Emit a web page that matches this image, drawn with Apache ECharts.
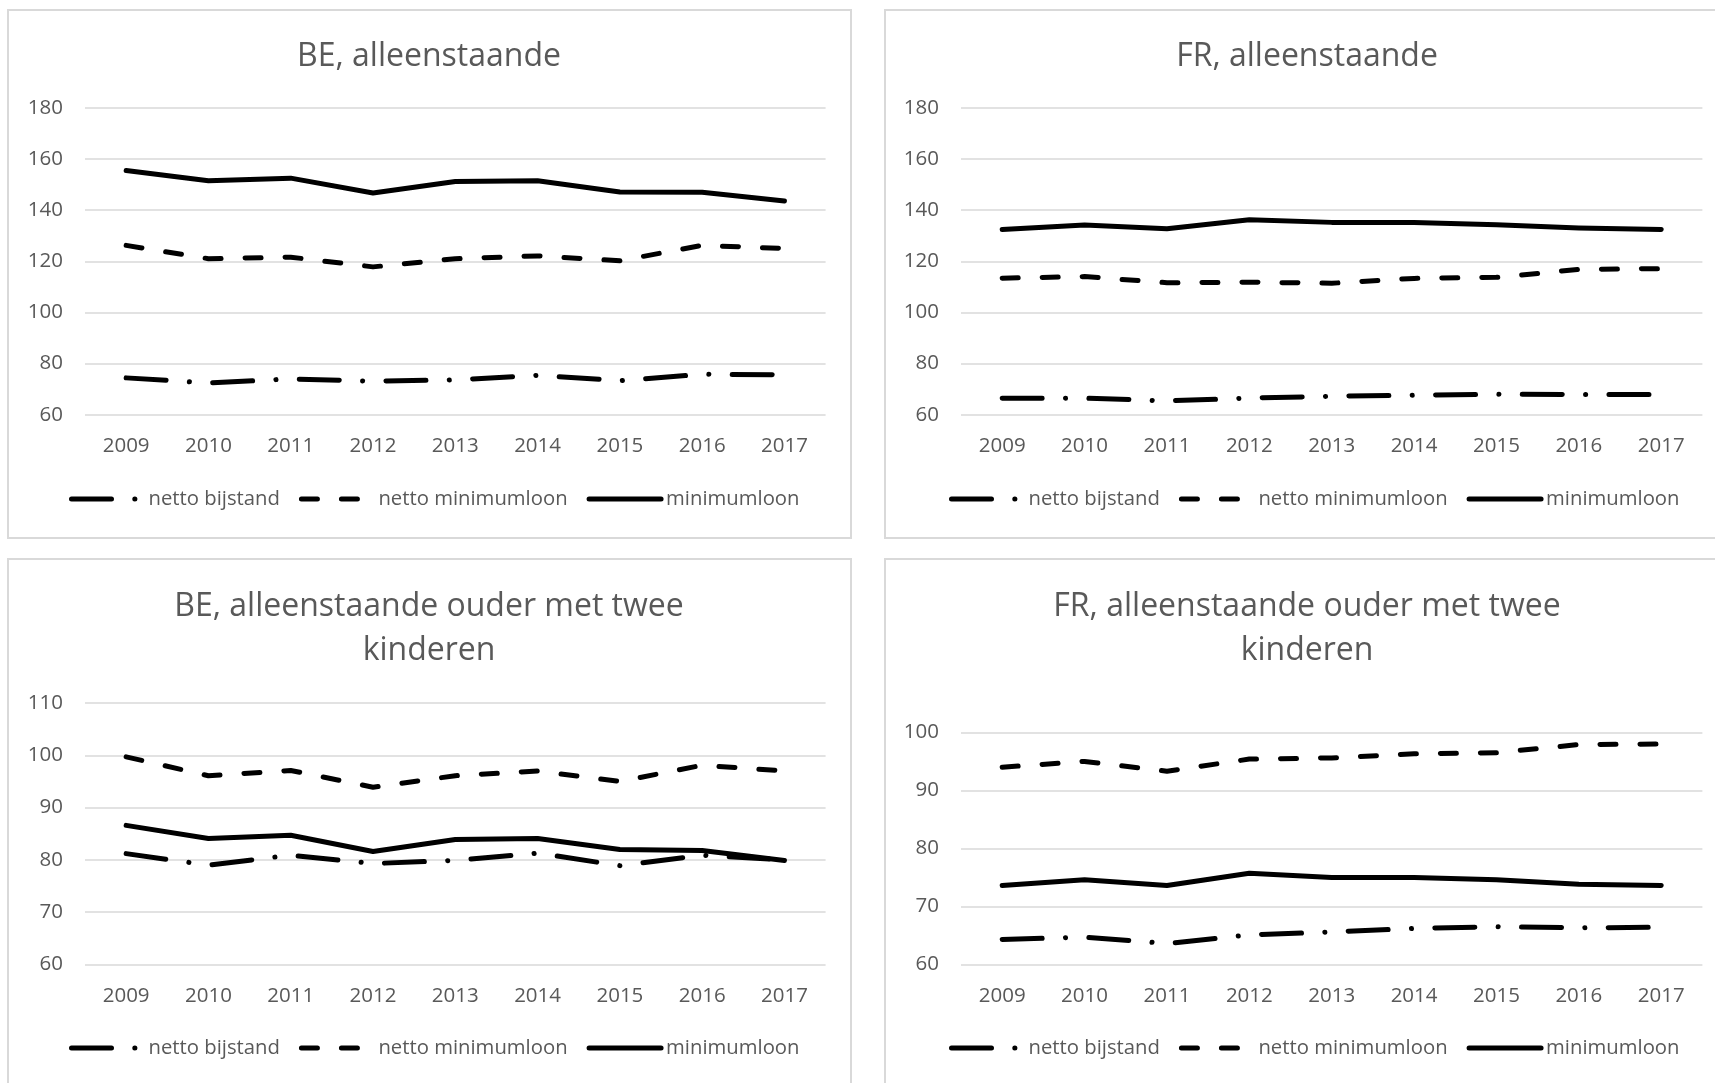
<!DOCTYPE html>
<html>
<head>
<meta charset="utf-8">
<script src="https://cdn.jsdelivr.net/npm/echarts@6/dist/echarts.min.js"></script>
<style>
html,body{margin:0;padding:0;background:#fff;}
#c{width:1715px;height:1083px;}
</style>
</head>
<body>
<div id="c"></div>
<script>
// ---------- data ----------
const years = ['2009','2010','2011','2012','2013','2014','2015','2016','2017'];
const seriesNames = ['netto bijstand','netto minimumloon','minimumloon'];

const titles = ['BE, alleenstaande','FR, alleenstaande','BE, alleenstaande ouder met twee\nkinderen','FR, alleenstaande ouder met twee\nkinderen'];

const beSingleBijstand  = [74.4, 72.4, 74.0, 73.1, 73.6, 75.4, 73.3, 75.8, 75.6];
const beSingleNettoMin  = [126.2, 121.0, 121.6, 117.8, 121.0, 122.1, 120.2, 126.2, 125.0];
const beSingleMin       = [155.5, 151.5, 152.5, 146.7, 151.2, 151.5, 147.1, 147.0, 143.6];

const frSingleBijstand  = [66.4, 66.5, 65.4, 66.5, 67.2, 67.6, 68.0, 67.9, 67.9];
const frSingleNettoMin  = [113.4, 114.0, 111.6, 111.8, 111.4, 113.3, 113.7, 116.8, 117.1];
const frSingleMin       = [132.4, 134.2, 132.7, 136.2, 135.2, 135.2, 134.3, 133.0, 132.4];

const beParentBijstand  = [81.2, 79.0, 80.9, 79.3, 79.9, 81.3, 78.9, 80.9, 80.0];
const beParentNettoMin  = [99.7, 96.1, 97.1, 93.9, 96.1, 97.0, 95.0, 98.1, 97.0];
const beParentMin       = [86.6, 84.1, 84.7, 81.6, 83.9, 84.1, 82.0, 81.8, 79.9];

const frParentBijstand  = [64.3, 64.7, 63.6, 65.1, 65.6, 66.2, 66.5, 66.3, 66.4];
const frParentNettoMin  = [94.0, 95.0, 93.3, 95.4, 95.6, 96.3, 96.5, 97.9, 98.0];
const frParentMin       = [73.6, 74.6, 73.6, 75.7, 75.0, 75.0, 74.6, 73.8, 73.6];

// y-axis ranges [min, max, interval]
const axisBeSingle = [60, 180, 20];
const axisFrSingle = [60, 180, 20];
const axisBeParent = [60, 110, 10];
const axisFrParent = [60, 100, 10];

// ---------- layout / style ----------
const FONT = '"Open Sans", "Noto Sans", sans-serif';
const TXT = '#595959';
const GRIDC = '#d9d9d9';
const LW = 5;
const dashStyles = [[40, 23.3, 0.1, 23.3], [16, 24], 'solid'];

const panels = [
  {data:[beSingleBijstand, beSingleNettoMin, beSingleMin], axis:axisBeSingle,
   grid:{left:85, top:107.8, width:740.6, height:306.9}, titleX:429, titleTop:34.5, legendX:69, legendTop:489},
  {data:[frSingleBijstand, frSingleNettoMin, frSingleMin], axis:axisFrSingle,
   grid:{left:961, top:107.8, width:741.4, height:306.9}, titleX:1307, titleTop:34.5, legendX:949, legendTop:489},
  {data:[beParentBijstand, beParentNettoMin, beParentMin], axis:axisBeParent,
   grid:{left:85, top:703, width:740.6, height:261.5}, titleX:429, titleTop:584.5, legendX:69, legendTop:1038},
  {data:[frParentBijstand, frParentNettoMin, frParentMin], axis:axisFrParent,
   grid:{left:961, top:732.4, width:741.4, height:232}, titleX:1307, titleTop:584.5, legendX:949, legendTop:1038}
];

const option = {
  backgroundColor: '#fff',
  animation: false,
  title: [], grid: [], xAxis: [], yAxis: [], series: [], legend: [],
  graphic: [
    {type:'rect', shape:{x:8, y:10, width:843, height:528}, style:{fill:'none', stroke:GRIDC, lineWidth:2}, silent:true},
    {type:'rect', shape:{x:885, y:10, width:843, height:528}, style:{fill:'none', stroke:GRIDC, lineWidth:2}, silent:true},
    {type:'rect', shape:{x:8, y:559, width:843, height:600}, style:{fill:'none', stroke:GRIDC, lineWidth:2}, silent:true},
    {type:'rect', shape:{x:885, y:559, width:843, height:600}, style:{fill:'none', stroke:GRIDC, lineWidth:2}, silent:true}
  ]
};

panels.forEach((p, i) => {
  option.title.push({
    text: titles[i], left: p.titleX, top: p.titleTop, padding: 0,
    textAlign: 'center', textVerticalAlign: 'top',
    textStyle: {fontFamily: FONT, fontSize: 32, fontWeight: 'normal', color: TXT, lineHeight: 44}
  });
  option.grid.push(Object.assign({containLabel:false}, p.grid));
  option.xAxis.push({
    type: 'category', gridIndex: i, data: years, boundaryGap: true,
    axisLine: {show: false}, axisTick: {show: false},
    axisLabel: {fontFamily: FONT, fontSize: 20.5, color: TXT, margin: 21}
  });
  option.yAxis.push({
    type: 'value', gridIndex: i, min: p.axis[0], max: p.axis[1], interval: p.axis[2],
    axisLine: {show: false}, axisTick: {show: false},
    axisLabel: {fontFamily: FONT, fontSize: 20.5, color: TXT, margin: 22},
    splitLine: {lineStyle: {color: GRIDC, width: 1.5}}
  });
  seriesNames.forEach((name, k) => {
    option.series.push({
      type: 'line', name: name, xAxisIndex: i, yAxisIndex: i,
      data: p.data[k], symbol: 'none', smooth: false,
      color: '#000',
      lineStyle: {color: '#000', width: LW, type: dashStyles[k], cap: 'round', join: 'round'},
      emphasis: {disabled: true}
    });
  });
  option.legend.push({
    data: seriesNames, left: p.legendX, top: p.legendTop, padding: 0,
    orient: 'horizontal', itemWidth: 72, itemHeight: 20, itemGap: 19,
    selectedMode: false,
    itemStyle: {opacity: 0},
    lineStyle: {width: LW, cap: 'round'},
    textStyle: {fontFamily: FONT, fontSize: 20.3, color: TXT}
  });
});

const chart = echarts.init(document.getElementById('c'), null, {renderer: 'canvas', width: 1715, height: 1083});
chart.setOption(option);
</script>
</body>
</html>
